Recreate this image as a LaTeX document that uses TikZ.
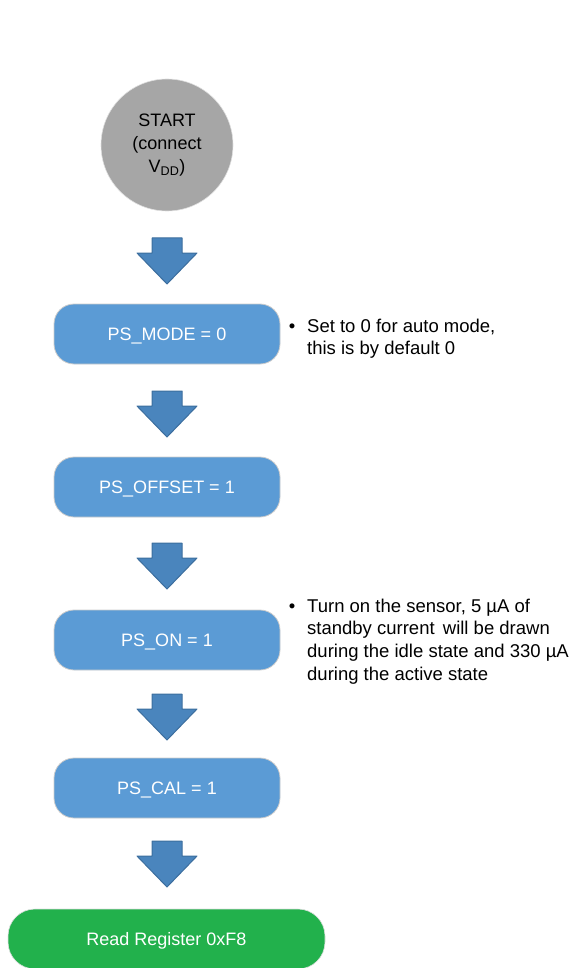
\documentclass[tikz,border=0pt]{standalone}
\usepackage{fontspec}
\setmainfont{Liberation Sans}
\definecolor{boxblue}{HTML}{5B9BD5}
\definecolor{arrblue}{HTML}{4A85BD}
\definecolor{arredge}{HTML}{3C6E9E}
\definecolor{startgray}{HTML}{A6A6A6}
\definecolor{endgreen}{HTML}{22B14C}
\tikzset{
  stepbox/.style={draw=black!20, line width=0.8pt, fill=boxblue, rounded corners=20pt,
    minimum width=226pt, minimum height=60pt, inner sep=0pt, text=white,
    text height=12pt, text depth=0pt,
    font=\fontsize{18}{22}\selectfont},
  startnode/.style={circle, fill=startgray, draw=black!12, line width=0.6pt, minimum size=132pt,
    inner sep=0pt, align=center, font=\fontsize{18}{23}\selectfont},
  endbox/.style={fill=endgreen, draw=black!12, line width=0.6pt, rounded corners=27pt,
    minimum width=317pt, minimum height=60pt, inner sep=0pt, text=white,
    text height=12pt, text depth=0pt,
    font=\fontsize{18}{22}\selectfont},
  bulletmark/.style={anchor=base, inner sep=0pt, font=\fontsize{18.5}{22.7}\selectfont},
  notetext/.style={anchor=base west, align=left, inner sep=0pt,
    font=\fontsize{18.5}{22.7}\selectfont},
  blockarrow/.pic={
    \draw[fill=arrblue, draw=arredge, line width=1pt, line join=round]
      (-15,0) -- (15,0) -- (15,15) -- (30,15) -- (0,46) -- (-30,15) -- (-15,15) -- cycle;
  }
}
\begin{document}
\begin{tikzpicture}[x=1pt, y=-1pt]
\useasboundingbox (0,0) rectangle (576,968);

\node[startnode] (start) at (167,145) {START\\(connect\\V\textsubscript{DD})};

\node[stepbox] (mode)   at (167,334) {PS\_MODE = 0};
\node[stepbox] (offset) at (167,487) {PS\_OFFSET = 1};
\node[stepbox] (on)     at (167,640) {PS\_ON = 1};
\node[stepbox] (cal)    at (167,788) {PS\_CAL = 1};
\node[endbox]  (read)   at (166.5,939) {Read Register 0xF8};

\pic at (167,238) {blockarrow};
\pic at (167,391) {blockarrow};
\pic at (167,543) {blockarrow};
\pic at (167,694) {blockarrow};
\pic at (167,841) {blockarrow};

\node[bulletmark] (b1) at (292,332) {•};
\node[notetext] (n1) at (307,354.7) {Set to 0 for auto mode,\\this is by default 0};

\node[bulletmark] (b2) at (292,612) {•};
\node[notetext] (n2) at (307,680.1) {Turn on the sensor, 5 µA of\\standby current\, will be drawn\\during the idle state and 330 µA\\during the active state};
\end{tikzpicture}
\end{document}
